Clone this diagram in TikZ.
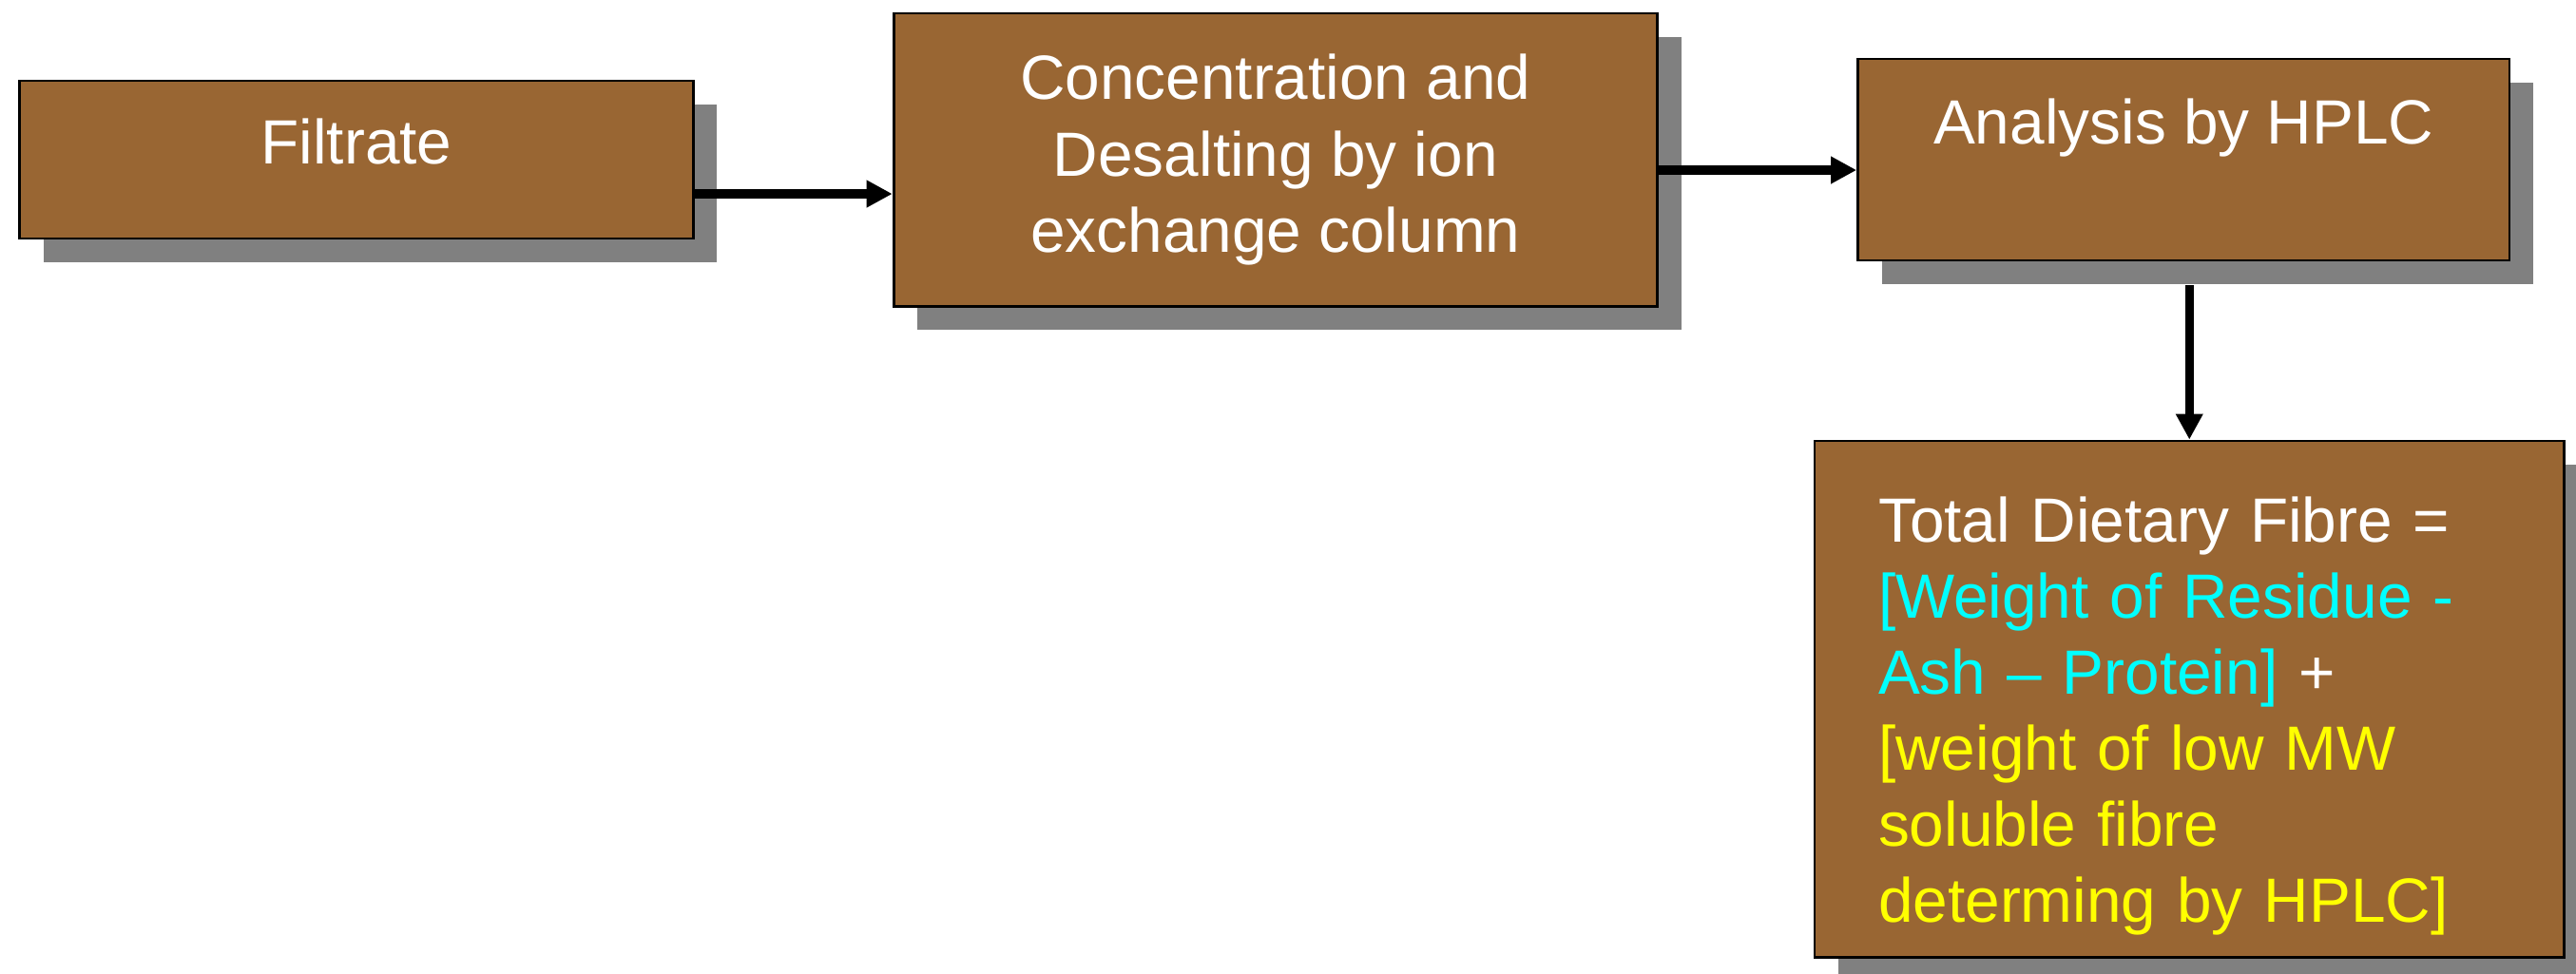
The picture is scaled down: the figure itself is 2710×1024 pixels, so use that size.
\documentclass[tikz,border=0pt]{standalone}
\usepackage{fontspec}
\setmainfont{Liberation Sans}
\usetikzlibrary{arrows.meta, positioning, shadows}
\definecolor{boxbrown}{HTML}{996633}
\definecolor{ashcyan}{RGB}{0,255,255}
\definecolor{hplcyellow}{RGB}{255,255,0}
\definecolor{shadowgray}{RGB}{128,128,128}

\begin{document}
\begin{tikzpicture}[
x=0.01cm, y=-0.01cm,
node distance=2.08cm,
box/.style={rectangle, draw=black, line width=0.8pt, fill=boxbrown, text=white,
  font=\fontsize{18.7}{22.76}\selectfont,
  general shadow={fill=shadowgray, shadow xshift=0.25cm, shadow yshift=-0.25cm}},
line/.style={-{Triangle[length=0.27cm, width=0.27cm]}, line width=2.6pt}
]
\useasboundingbox (0,0) rectangle (2710,1024);

\node[box, minimum width=7.08cm, minimum height=1.66cm, text depth=0.38cm] (filtrate) at (375,168) {Filtrate};
\node[box, right=of filtrate, align=center, minimum width=8.03cm, minimum height=3.08cm] (conc) {Concentration and\\Desalting by ion\\exchange column};
\node[box, right=of conc, minimum width=6.85cm, minimum height=2.12cm, text depth=0.8cm] (hplc) {Analysis by HPLC};
\node[box, below=1.87cm of hplc, xshift=0.06cm, align=left, text width=6.54cm, inner xsep=0.67cm, minimum height=5.43cm] (total) {\rule{0pt}{0.83cm}Total Dietary Fibre =\\
\textcolor{ashcyan}{[Weight of Residue -}\\
\textcolor{ashcyan}{Ash – Protein]} +\\
\textcolor{hplcyellow}{[weight of low MW}\\
\textcolor{hplcyellow}{soluble fibre}\\
\textcolor{hplcyellow}{determing by HPLC]}};

\draw[line] ([yshift=-0.36cm]filtrate.east) -- ([yshift=-0.36cm]filtrate.east -| conc.west);
\draw[line] ([yshift=-0.11cm]conc.east) -- ([yshift=-0.11cm]conc.east -| hplc.west);
\draw[line] ([yshift=-0.25cm]hplc.south -| total.north) -- (total.north);
\end{tikzpicture}
\end{document}
